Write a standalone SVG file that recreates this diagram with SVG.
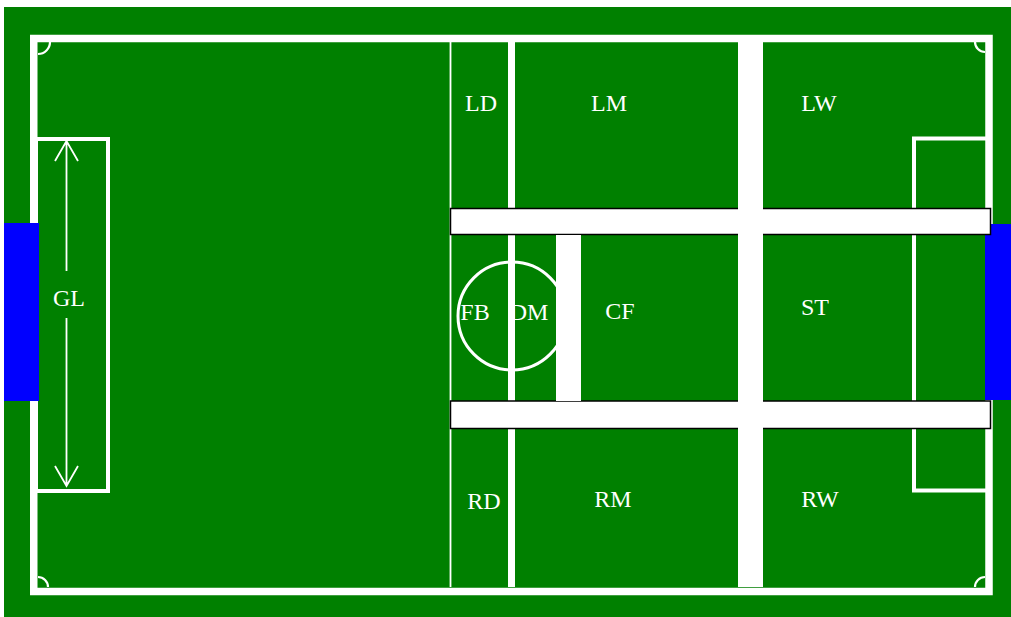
<svg xmlns="http://www.w3.org/2000/svg" width="1011" height="617" viewBox="0 0 1011 617">
<style>
.ln{fill:none;stroke:#ffffff}
.lbl{font-family:"Liberation Serif","Times New Roman",serif;font-size:24px;fill:#ffffff;text-anchor:middle}
.bar{fill:#ffffff;stroke:#000000;stroke-width:1.5}
.wb{fill:#ffffff}
.goal{fill:#0000ff}
</style>
<rect x="0" y="0" width="1011" height="617" fill="#ffffff"/>
<rect x="4" y="7" width="1007" height="610" fill="#008000"/>
<g id="field">
<rect class="ln" x="33.75" y="38.5" width="955.25" height="553" stroke-width="7.5"/>
<rect class="ln" x="36" y="139" width="72" height="352" stroke-width="4"/>
<rect class="ln" x="914" y="138.5" width="75" height="352" stroke-width="4"/>
<path class="ln" stroke-width="2.2" d="M38,54 A12,12 0 0 0 50,42 M975,42 A10,10 0 0 0 985,52 M38,577 A10,10 0 0 1 48,587 M975,587 A10,10 0 0 1 985,577"/>
<line class="ln" x1="450.5" y1="42" x2="450.5" y2="587" stroke-width="1.8"/>
<circle class="ln" cx="512" cy="316" r="54" stroke-width="3"/>
<rect class="wb" x="508" y="42" width="7" height="545"/>
</g>
<g id="goals">
<rect class="goal" x="4" y="223" width="35" height="178"/>
<rect class="goal" x="985" y="224" width="26" height="176"/>
</g>
<g id="connectors">
<path class="ln" stroke-width="1.8" d="M66.5,141 V271 M66.5,318 V486 M55,161 L66.5,141 L78,161 M55,466 L66.5,486 L78,466"/>
</g>
<g id="bars">
<rect class="bar" x="450.5" y="208.5" width="540" height="26"/>
<rect class="bar" x="450.5" y="401" width="540" height="27.5"/>
<rect class="wb" x="556" y="235" width="25" height="166"/>
<rect class="wb" x="738" y="42" width="25" height="545"/>
</g>
<g id="GL"><text class="lbl" x="69" y="306">GL</text></g>
<g id="LD"><text class="lbl" x="481" y="111">LD</text></g>
<g id="LM"><text class="lbl" x="609" y="111">LM</text></g>
<g id="LW"><text class="lbl" x="819" y="111">LW</text></g>
<g id="FB"><text class="lbl" x="475" y="320">FB</text></g>
<g id="DM"><text class="lbl" x="529" y="320">DM</text></g>
<g id="CF"><text class="lbl" x="620" y="319">CF</text></g>
<g id="ST"><text class="lbl" x="815" y="315">ST</text></g>
<g id="RD"><text class="lbl" x="484" y="509">RD</text></g>
<g id="RM"><text class="lbl" x="613" y="507">RM</text></g>
<g id="RW"><text class="lbl" x="820" y="507">RW</text></g>
</svg>
